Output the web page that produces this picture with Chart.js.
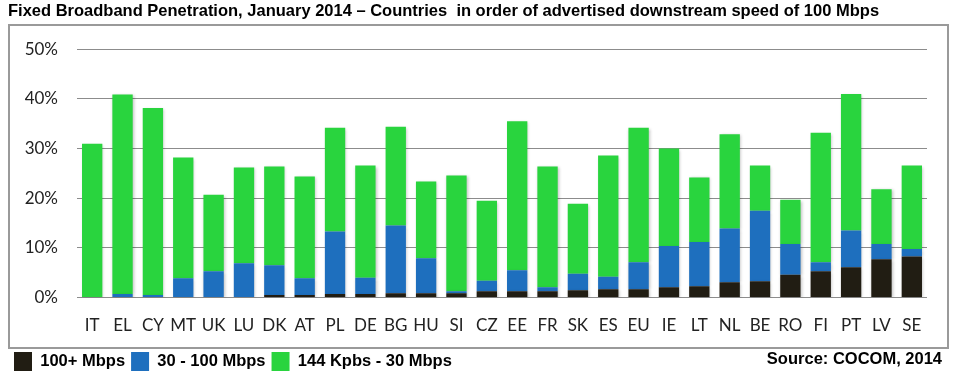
<!DOCTYPE html>
<html>
<head>
<meta charset="utf-8">
<script src="https://cdn.jsdelivr.net/npm/chart.js@4.4.1/dist/chart.umd.min.js"></script>
<style>
  html, body { margin: 0; padding: 0; background: #fff; }
  #wrap { width: 956px; height: 381px; position: relative; }
</style>
</head>
<body>
<div id="wrap"><canvas id="chart"></canvas></div>
<script>
const countries = ['IT','EL','CY','MT','UK','LU','DK','AT','PL','DE','BG','HU','SI','CZ','EE','FR','SK','ES','EU','IE','LT','NL','BE','RO','FI','PT','LV','SE'];
// penetration in %, stacked bottom to top
const fast100 = [0,0,0,0,0,0,0.5,0.5,0.7,0.7,0.9,0.9,0.9,1.3,1.3,1.3,1.5,1.7,1.7,2.1,2.3,3.1,3.3,4.6,5.3,6.1,7.7,8.3];
const mid30to100 = [0,0.7,0.5,3.9,5.3,6.9,6.0,3.4,12.6,3.3,13.6,7.0,0.4,2.1,4.2,0.8,3.3,2.5,5.4,8.3,8.9,10.8,14.2,6.2,1.8,7.4,3.1,1.5];
const basic144k = [31.0,40.2,37.7,24.3,15.4,19.3,19.9,20.5,20.9,22.6,19.9,15.5,23.3,16.1,30.0,24.3,14.1,24.4,27.1,19.6,13.0,19.0,9.1,8.9,26.1,27.5,11.0,16.8];
const yTicks = [0, 10, 20, 30, 40, 50];

const helv = '"Liberation Sans", Arial, Helvetica, sans-serif';

const frameAndSource = {
  id: 'frameAndSource',
  beforeDraw(chart) {
    const ctx = chart.ctx;
    ctx.save();
    ctx.strokeStyle = '#9a9a9a';
    ctx.lineWidth = 2;
    ctx.strokeRect(9, 25, 939, 323);
    ctx.restore();
  },
  afterDraw(chart) {
    const ctx = chart.ctx;
    ctx.save();
    ctx.font = 'bold 16.5px ' + helv;
    ctx.fillStyle = '#000';
    ctx.textAlign = 'right';
    ctx.textBaseline = 'middle';
    ctx.fillText('Source: COCOM, 2014', 942, 359);
    ctx.restore();
  },
  beforeDatasetsDraw(chart) {
    const ctx = chart.ctx;
    ctx.save();
    ctx.shadowColor = 'rgba(0,0,0,0.25)';
    ctx.shadowBlur = 3;
    ctx.shadowOffsetX = 1;
    ctx.shadowOffsetY = 1;
  },
  afterDatasetsDraw(chart) {
    chart.ctx.restore();
  }
};

new Chart(document.getElementById('chart'), {
  type: 'bar',
  data: {
    labels: countries,
    datasets: [
      { label: '100+ Mbps', data: fast100, backgroundColor: '#211d13' },
      { label: '30 - 100 Mbps', data: mid30to100, backgroundColor: '#1e6fbe' },
      { label: '144 Kpbs - 30 Mbps', data: basic144k, backgroundColor: '#29d43e' }
    ]
  },
  plugins: [frameAndSource],
  options: {
    responsive: true,
    maintainAspectRatio: false,
    animation: false,
    layout: { padding: { left: 8, right: 29, top: 0, bottom: 0 } },
    datasets: { bar: { barPercentage: 0.67, categoryPercentage: 1.0 } },
    plugins: {
      title: {
        display: true,
        align: 'start',
        text: 'Fixed Broadband Penetration, January 2014 \u2013 Countries  in order of advertised downstream speed of 100 Mbps',
        color: '#000',
        font: { family: helv, size: 16.5, weight: 'bold' },
        padding: { top: 2, bottom: 27.5 }
      },
      legend: {
        position: 'bottom',
        align: 'start',
        labels: {
          color: '#000',
          font: { family: helv, size: 16.5, weight: 'bold' },
          boxWidth: 18,
          boxHeight: 19,
          padding: 6
        }
      },
      tooltip: { enabled: false }
    },
    scales: {
      x: {
        stacked: true,
        grid: { display: false },
        border: { display: false },
        ticks: { color: '#222', font: { family: 'Lato', size: 17 }, padding: 10, maxRotation: 0, autoSkip: false }
      },
      y: {
        stacked: true,
        min: 0,
        max: 50,
        afterFit(scale) { scale.width = 69; },
        afterBuildTicks(scale) { scale.ticks = yTicks.map(v => ({ value: v })); },
        grid: { color: '#8c8c8c', lineWidth: 1, drawTicks: false },
        border: { display: false },
        ticks: { color: '#222', font: { family: 'Lato', size: 17 }, padding: 19, callback: v => v + '%' }
      }
    }
  }
});
</script>
</body>
</html>
